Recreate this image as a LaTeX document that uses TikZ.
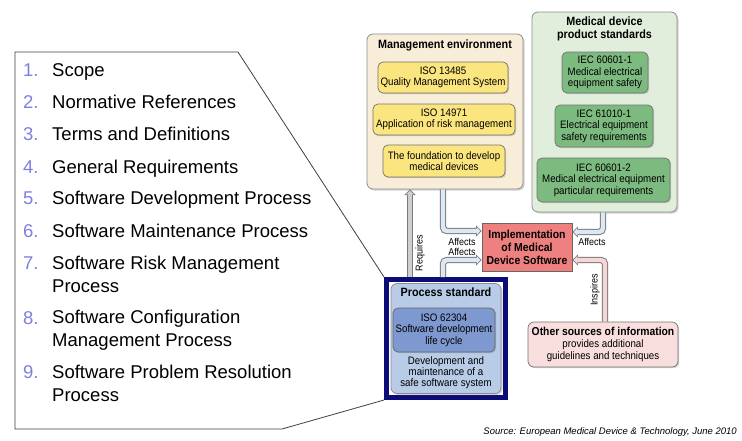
\documentclass[tikz,border=0pt]{standalone}
\usepackage{fontspec}
\setmainfont{Liberation Sans}
\newfontfamily\narrowfont[FakeStretch=0.9]{Liberation Sans}
\usetikzlibrary{arrows.meta,shadows,calc}

\definecolor{navy}{HTML}{0C0C78}
\definecolor{listnum}{HTML}{7F7FDF}
\definecolor{mgmtfill}{HTML}{F8EDD8}
\definecolor{isofill}{HTML}{FBE57E}
\definecolor{medfill}{HTML}{E2EEDC}
\definecolor{iecfill}{HTML}{7DBA80}
\definecolor{implfill}{HTML}{EF8080}
\definecolor{procfill}{HTML}{B8CCE8}
\definecolor{isoblue}{HTML}{7E98D0}
\definecolor{otherfill}{HTML}{F9DEDE}
\definecolor{affill}{HTML}{DCE8F4}
\definecolor{reqfill}{HTML}{CFCFCF}
\definecolor{insfill}{HTML}{F6D6D6}
\definecolor{pipeline}{HTML}{7A7A7A}

\tikzset{
  envbox/.style={draw=black!45, line width=0.8pt, rounded corners=6pt, inner sep=0pt,
    drop shadow={opacity=0.35,shadow xshift=1.5pt,shadow yshift=-1.5pt}},
  itembox/.style={draw=black!55, line width=0.7pt, rounded corners=5pt, inner sep=0pt,
    align=center, font=\narrowfont\fontsize{10.8}{11.6}\selectfont,
    drop shadow={opacity=0.35,shadow xshift=1.2pt,shadow yshift=-1.2pt}},
  boxtitle/.style={align=center, inner sep=0pt, font=\narrowfont\bfseries\fontsize{12}{12.5}\selectfont},
  plain/.style={align=center, inner sep=0pt, font=\narrowfont\fontsize{10.8}{11}\selectfont},
  lbl/.style={inner sep=0pt, font=\narrowfont\fontsize{10}{10}\selectfont},
  num/.style={anchor=base west, inner sep=0pt, text=listnum, font=\fontsize{18.5}{23}\selectfont},
  entry/.style={anchor=base west, inner sep=0pt, align=left, font=\fontsize{18.5}{23}\selectfont},
  pipe/.style={draw=#1, line width=4.4pt, rounded corners=4pt,
    -{Triangle[length=3.6pt,width=7.6pt]}, shorten >=1.3pt,
    preaction={draw=pipeline, line width=6.4pt, -{Triangle[length=5.6pt,width=11pt]}, shorten >=0pt}}
}

\begin{document}
\begin{tikzpicture}[x=1pt,y=-1pt]
        \useasboundingbox[fill=white] (0,0) rectangle (742,440);

        %%%%%%%%% Management environment %%%%%%%%%
        \node[envbox,fill=mgmtfill,minimum width=156,minimum height=155] (mgmt) at (445,111.5) {};
        \node[boxtitle] (mgmttitle) at (445,45) {Management environment};
        \node[itembox,fill=isofill,minimum width=130,minimum height=31] (iso13485) at (443,77.5) {ISO 13485\\Quality Management System};
        \node[itembox,fill=isofill,minimum width=142,minimum height=31] (iso14971) at (444,119.5) {ISO 14971\\Application of risk management};
        \node[itembox,fill=isofill,minimum width=122,minimum height=32] (found) at (444,161) {The foundation to develop\\medical devices};

        %%%%%%%%% Medical device standards %%%%%%%%%
        \node[envbox,fill=medfill,minimum width=145,minimum height=200] (med) at (604.5,112) {};
        \node[boxtitle] (medtitle) at (604.5,29) {Medical device\\product standards};
        \node[itembox,fill=iecfill,minimum width=86,minimum height=41] (iec1) at (605,72.5) {IEC 60601-1\\Medical electrical\\equipment safety};
        \node[itembox,fill=iecfill,minimum width=98,minimum height=42] (iec2) at (604,126) {IEC 61010-1\\Electrical equipment\\safety requirements};
        \node[itembox,fill=iecfill,minimum width=133,minimum height=44] (iec3) at (603.5,180) {IEC 60601-2\\Medical electrical equipment\\particular requirements};

        %%%%%%%%% Implementation %%%%%%%%%
        \node[draw=black!60,fill=implfill,line width=0.7pt,minimum width=90,minimum height=48,inner sep=0pt,align=center,
              font=\narrowfont\bfseries\fontsize{11.6}{13}\selectfont] (impl) at (527,247) {Implementation\\of Medical\\Device Software};

        %%%%%%%%% Process standard %%%%%%%%%
        \node[draw=navy,line width=5pt,fill=white,minimum width=119,minimum height=118] (frame) at (446,338.5) {};
        \node[envbox,fill=procfill,minimum width=110,minimum height=110] (proc) at (446,338.5) {};
        \node[boxtitle] (proctitle) at (446,292) {Process standard};
        \node[itembox,fill=isoblue,draw=black!60,minimum width=102,minimum height=44] (iso62304) at (444,330) {ISO 62304\\Software development\\life cycle};
        \node[plain] (procdesc) at (446,373) {Development and\\maintenance of a\\safe software system};

        %%%%%%%%% Other sources %%%%%%%%%
        \node[itembox,fill=otherfill,minimum width=150,minimum height=45,rounded corners=6pt] (other) at (603,344.5)
              {\textbf{\fontsize{11.5}{12}\selectfont Other sources of information}\\provides additional\\guidelines and techniques};

        %%%%%%%%% Pipes %%%%%%%%%
        \draw[pipe=reqfill] (frame.north -| 410,0) -- (mgmt.south -| 410,0);
        \draw[pipe=affill] (mgmt.south -| 443,0) |- ($(impl.west)+(0,-16)$);
        \draw[pipe=affill] (frame.north -| 443,0) |- ($(impl.west)+(0,13)$);
        \draw[pipe=affill] (med.south -| 603,0) |- ($(impl.east)+(0,-15)$);
        \draw[pipe=insfill] (other.north -| 605,0) |- ($(impl.east)+(0,13)$);

        %%%%%%%%% Pipe labels %%%%%%%%%
        \node[lbl,rotate=90] (reqlbl) at (420,253) {Requires};
        \node[lbl] (aflbl1) at (462,242) {Affects};
        \node[lbl] (aflbl2) at (462,252) {Affects};
        \node[lbl] (aflbl3) at (592,242) {Affects};
        \node[lbl,rotate=90] (inslbl) at (595,290) {Inspires};

        %%%%%%%%% Callout %%%%%%%%%
        \draw[black!75,line width=0.8pt] (frame.north west) -- (238,52) -- (15,52) -- (15,429) -- (282,429) -- (frame.south west);

        %%%%%%%%% Clauses %%%%%%%%%
        \node[num] (n1) at (23,76) {1.};
        \node[num] (n2) at (23,108) {2.};
        \node[num] (n3) at (23,140) {3.};
        \node[num] (n4) at (23,173) {4.};
        \node[num] (n5) at (23,204) {5.};
        \node[num] (n6) at (23,237) {6.};
        \node[num] (n7) at (23,269) {7.};
        \node[num] (n8) at (23,324) {8.};
        \node[num] (n9) at (23,378) {9.};
        \node[entry] (c1) at (52,76) {Scope};
        \node[entry] (c2) at (52,108) {Normative References};
        \node[entry] (c3) at (52,140) {Terms and Definitions};
        \node[entry] (c4) at (52,173) {General Requirements};
        \node[entry] (c5) at (52,204) {Software Development Process};
        \node[entry] (c6) at (52,237) {Software Maintenance Process};
        \node[entry] (c7) at (52,292) {Software Risk Management\\Process};
        \node[entry] (c8) at (52,346) {Software Configuration\\Management Process};
        \node[entry] (c9) at (52,401) {Software Problem Resolution\\Process};

        %%%%%%%%% Source %%%%%%%%%
        \node[anchor=east,inner sep=0pt,font=\itshape\fontsize{9.5}{10}\selectfont] (source) at (737,432)
              {Source: European Medical Device \& Technology, June 2010};
    \end{tikzpicture}
\end{document}
